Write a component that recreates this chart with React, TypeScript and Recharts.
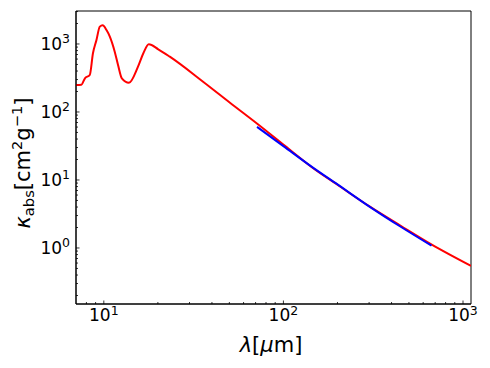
import React from 'react';
import { LineChart, Line, XAxis, YAxis, ReferenceArea } from 'recharts';

// red curve: full opacity model
const RED_LAMBDA = [7.0, 7.5, 7.85, 8.35, 8.7, 9.1, 9.5, 9.85, 10.35, 10.8, 11.5, 12.0, 12.6, 13.8, 15.5, 16.6, 17.8, 20.1, 23.3, 35.7, 50.4, 71.8, 102, 146.5, 200, 303, 450, 670, 1108];
const RED_KAPPA = [250, 252, 313, 350, 730, 1145, 1800, 1880, 1600, 1280, 770, 490, 312, 269, 464, 730, 990, 836, 650, 279, 137, 66.7, 31.8, 14.9, 8.5, 4.05, 2.12, 1.12, 0.545];

// blue curve: fit over the far-IR range
const BLUE_LAMBDA = [71.3, 100, 146, 200, 300, 450, 668];
const BLUE_KAPPA = [60.5, 31.5, 15.2, 8.6, 4.1, 2.05, 1.08];

const X_TICKS = [8, 9, 10, 20, 30, 40, 50, 60, 70, 80, 90, 100, 200, 300, 400, 500, 600, 700, 800, 900, 1000];
const Y_TICKS = [0.2, 0.3, 0.4, 0.5, 0.6, 0.7, 0.8, 0.9, 1, 2, 3, 4, 5, 6, 7, 8, 9, 10, 20, 30, 40, 50, 60, 70, 80, 90, 100, 200, 300, 400, 500, 600, 700, 800, 900, 1000, 2000, 3000];

const X_DOMAIN = [7, 1108];
const Y_DOMAIN = [0.15, 3055];

const redData = RED_LAMBDA.map((x, i) => ({ x, y: RED_KAPPA[i] }));
const blueData = BLUE_LAMBDA.map((x, i) => ({ x, y: BLUE_KAPPA[i] }));

const FONT = '"DejaVu Sans", sans-serif';

const isMajor = (v: number) => Math.abs(Math.log10(v) - Math.round(Math.log10(v))) < 1e-9;

const XTick = (props: any) => {
  const { x, y, payload } = props;
  const v = payload.value;
  const major = isMajor(v);
  return (
    <g>
      <line x1={x} y1={y} x2={x} y2={y - (major ? 3.5 : 2)} stroke="#000" strokeWidth={0.8} />
      {major && (
        <text x={x} y={y + 17} textAnchor="middle" fontSize={17} fontFamily={FONT} fill="#000">
          <tspan>10</tspan>
          <tspan dy={-6.5} fontSize={12.5}>{Math.round(Math.log10(v))}</tspan>
        </text>
      )}
    </g>
  );
};

const YTick = (props: any) => {
  const { x, y, payload } = props;
  const v = payload.value;
  const major = isMajor(v);
  return (
    <g>
      <line x1={x} y1={y} x2={x + (major ? 3.5 : 2)} y2={y} stroke="#000" strokeWidth={0.8} />
      {major && (
        <text x={x - 6} y={y + 6} textAnchor="end" fontSize={17} fontFamily={FONT} fill="#000">
          <tspan>10</tspan>
          <tspan dy={-6.5} fontSize={12.5}>{Math.round(Math.log10(v))}</tspan>
        </text>
      )}
    </g>
  );
};

const YTitle = () => (
  <text x={22} y={155} transform="rotate(-90, 22, 155)" textAnchor="middle" fontSize={21} fontFamily={FONT} fill="#000">
    <tspan fontStyle="italic">κ</tspan>
    <tspan dy={4} fontSize={14.7}>abs</tspan>
    <tspan dy={-4}>[cm</tspan>
    <tspan dy={-8} fontSize={14.7}>2</tspan>
    <tspan dy={8}>g</tspan>
    <tspan dy={-8} fontSize={14.7}>−1</tspan>
    <tspan dy={8}>]</tspan>
  </text>
);

const XTitle = () => (
  <text x={263} y={344} textAnchor="middle" fontSize={21} fontFamily={FONT} fill="#000">
    <tspan fontStyle="italic">λ</tspan>
    <tspan>[</tspan>
    <tspan fontStyle="italic">μ</tspan>
    <tspan>m]</tspan>
  </text>
);

export default function App() {
  return (
    <div style={{ width: 482, height: 352, fontFamily: FONT }}>
      <LineChart width={482} height={352} margin={{ top: 3, right: 19, bottom: 0, left: 0 }}>
        <XAxis
          type="number"
          dataKey="x"
          scale="log"
          domain={X_DOMAIN}
          allowDataOverflow
          ticks={X_TICKS}
          interval={0}
          height={56}
          tickSize={0}
          tickMargin={0}
          tickLine={false}
          axisLine={{ stroke: '#000', strokeWidth: 1 }}
          tick={(p: any) => <XTick {...p} />}
          label={{ content: () => <XTitle /> }}
        />
        <YAxis
          type="number"
          dataKey="y"
          scale="log"
          domain={Y_DOMAIN}
          allowDataOverflow
          ticks={Y_TICKS}
          interval={0}
          width={68}
          tickSize={0}
          tickMargin={0}
          tickLine={false}
          axisLine={{ stroke: '#000', strokeWidth: 1 }}
          tick={(p: any) => <YTick {...p} />}
          label={{ content: () => <YTitle /> }}
        />
        <ReferenceArea x1={X_DOMAIN[0]} x2={X_DOMAIN[1]} y1={Y_DOMAIN[0]} y2={Y_DOMAIN[1]} fill="none" stroke="#000" strokeWidth={1} />
        <Line data={redData} dataKey="y" type="monotone" stroke="#ff0000" strokeWidth={2} dot={false} activeDot={false} isAnimationActive={false} />
        <Line data={blueData} dataKey="y" type="monotone" stroke="#0000ff" strokeWidth={2} dot={false} activeDot={false} isAnimationActive={false} />
      </LineChart>
    </div>
  );
}
